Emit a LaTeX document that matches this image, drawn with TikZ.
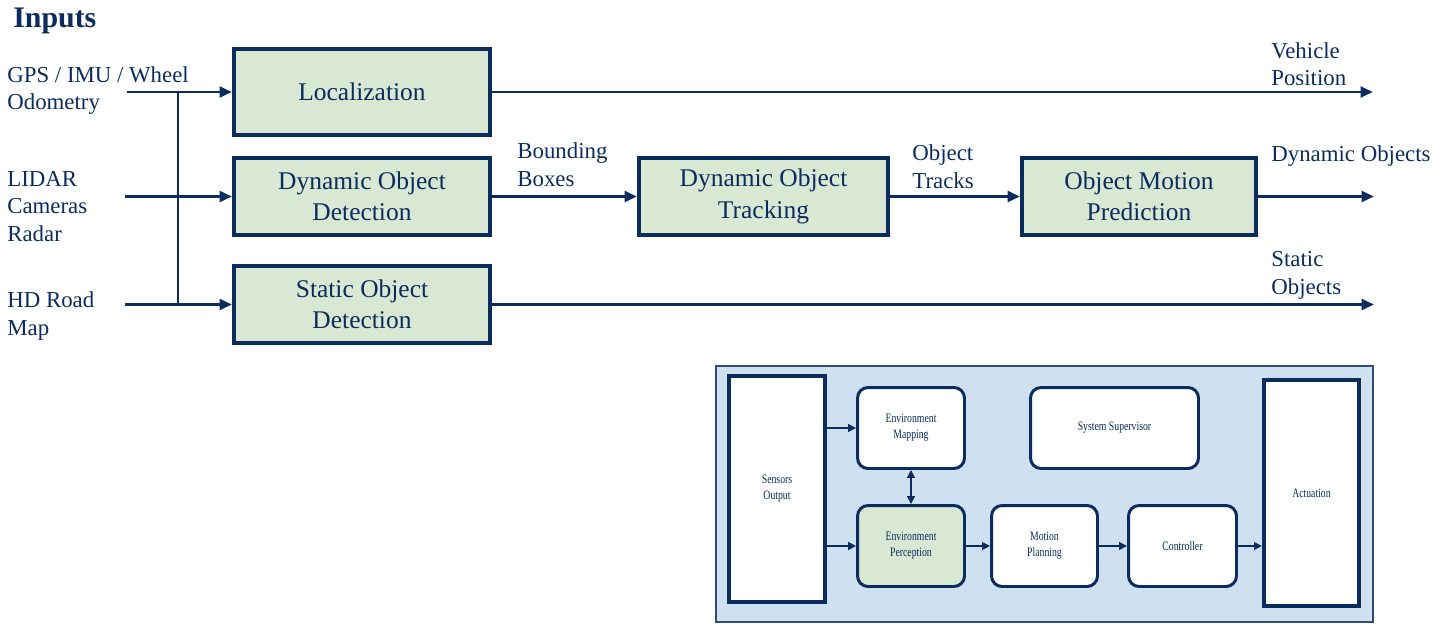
\documentclass[tikz,border=0pt]{standalone}
\usepackage{fontspec}
\setmainfont{Liberation Serif}
\newfontfamily\narrowserif[FakeStretch=0.76]{Liberation Serif}
\usetikzlibrary{arrows.meta}
\definecolor{navy}{HTML}{0B2C5E}
\definecolor{boxgreen}{HTML}{D9E8D3}
\definecolor{panelblue}{HTML}{CFE0F1}

\begin{document}
\begin{tikzpicture}[x=0.02cm,y=-0.02cm]
\tikzstyle{every node}=[text=navy, inner sep=0pt]
\tikzstyle{stage}=[draw=navy, line width=2.3pt, fill=boxgreen, align=center, font=\fontsize{14.5}{17.8}\selectfont, minimum height=1.54cm]
\tikzstyle{lbl}=[align=left, anchor=base west, font=\fontsize{13}{15.6}\selectfont]
\tikzstyle{flow}=[draw=navy, line width=1.7pt, -{Triangle[length=7pt,width=6pt]}]
\tikzstyle{block}=[draw=navy, line width=1.7pt, rounded corners=6pt, fill=white, align=center, font=\narrowserif\fontsize{7.3}{9}\selectfont, minimum height=1.62cm]
\tikzstyle{tall}=[draw=navy, line width=2.4pt, fill=white, align=center, font=\narrowserif\fontsize{7.3}{9}\selectfont, minimum height=4.52cm]
\tikzstyle{link}=[draw=navy, line width=0.9pt, -{Triangle[length=4.5pt,width=4.5pt]}]
\useasboundingbox (0,0) rectangle (1440,635);

% perception pipeline
\node (title) [anchor=base west, font=\bfseries\fontsize{17}{20}\selectfont] at (13,28) {Inputs};
\node (loc) [stage, minimum width=5.12cm, minimum height=1.72cm] at (362,92) {Localization};
\node (dod) [stage, minimum width=5.12cm] at (362,196.5) {Dynamic Object\\Detection};
\node (sod) [stage, minimum width=5.12cm] at (362,304.5) {Static Object\\Detection};
\node (track) [stage, minimum width=4.98cm] at (763.5,196.5) {Dynamic Object\\Tracking};
\node (pred) [stage, minimum width=4.68cm] at (1139,196.5) {Object Motion\\Prediction};

% labels: placed at the baseline of their last line
\node (gpslbl) [lbl] at (7,110) {GPS / IMU / Wheel\\Odometry};
\node (lidarlbl) [lbl] at (7,241) {LIDAR\\Cameras\\Radar};
\node (hdlbl) [lbl] at (7,335) {HD Road\\Map};
\node (bboxlbl) [lbl] at (517,186) {Bounding\\Boxes};
\node (otrklbl) [lbl] at (912,188) {Object\\Tracks};
\node (vposlbl) [lbl] at (1271,86) {Vehicle\\Position};
\node (dynlbl) [lbl] at (1271,161) {Dynamic Objects};
\node (statlbl) [lbl] at (1271,294) {Static\\Objects};

\coordinate (gps) at (127,92);
\coordinate (lidar) at (125,196.5);
\coordinate (hd) at (125,304.5);
\coordinate (bus) at (178,0);
\coordinate (vpos) at (1373,92);
\coordinate (dynout) at (1374,196.5);
\coordinate (statout) at (1374,304.5);

\draw[navy, line width=1.7pt] (bus |- gps) -- (bus |- hd);
\draw[flow] (gps) -- (loc);
\draw[flow] (lidar) -- (dod);
\draw[flow] (hd) -- (sod);
\draw[flow] (dod) -- (track);
\draw[flow] (track) -- (pred);
\draw[flow] (loc) -- (vpos);
\draw[flow] (pred) -- (dynout);
\draw[flow] (sod) -- (statout);

% software stack inset
\draw[draw=navy!85, line width=0.6pt, fill=panelblue] (716,366) rectangle (1373,622);
\node (sens) [tall, minimum width=1.92cm] at (777,489) {Sensors\\Output};
\node (act) [tall, minimum width=1.9cm] at (1311.5,493) {Actuation};
\node (map) [block, minimum width=2.14cm] at (911,428) {Environment\\Mapping};
\node (sup) [block, minimum width=3.36cm] at (1114.5,428) {System Supervisor};
\node (perc) [block, fill=boxgreen, minimum width=2.14cm] at (911,546) {Environment\\Perception};
\node (mot) [block, minimum width=2.12cm] at (1044.5,546) {Motion\\Planning};
\node (ctrl) [block, minimum width=2.16cm] at (1182.5,546) {Controller};

\draw[link] (sens.east |- map) -- (map);
\draw[link] (sens.east |- perc) -- (perc);
\draw[link, {Triangle[length=4.5pt,width=4.5pt]}-{Triangle[length=4.5pt,width=4.5pt]}] (map) -- (perc);
\draw[link] (perc) -- (mot);
\draw[link] (mot) -- (ctrl);
\draw[link] (ctrl) -- (ctrl -| act.west);
\end{tikzpicture}
\end{document}
